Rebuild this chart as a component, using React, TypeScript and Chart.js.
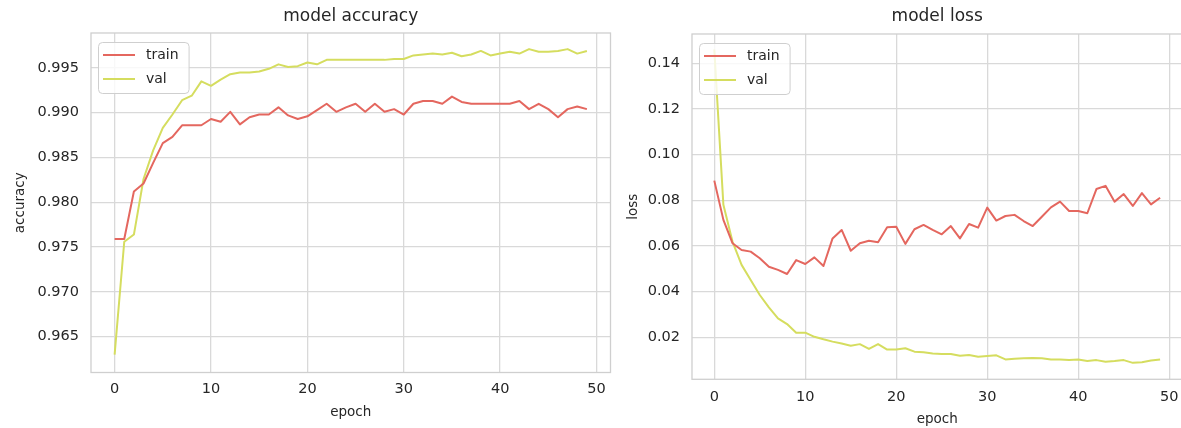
import React, { useEffect, useRef } from 'react';
import { Chart, registerables } from 'chart.js';

Chart.register(...registerables);

// ---------------- data ----------------
const seriesNames = ['train', 'val'];

const trainAcc = [
  0.9759, 0.9759, 0.9812, 0.9821, 0.9844, 0.9866, 0.9873, 0.9886, 0.9886, 0.9886,
  0.9893, 0.9890, 0.9901, 0.9887, 0.9895, 0.9898, 0.9898, 0.9906, 0.9897, 0.9893,
  0.9896, 0.9903, 0.9910, 0.9901, 0.9906, 0.9910, 0.9901, 0.9910, 0.9901, 0.9904,
  0.9898, 0.9910, 0.9913, 0.9913, 0.9910, 0.9918, 0.9912, 0.9910, 0.9910, 0.9910,
  0.9910, 0.9910, 0.9913, 0.9904, 0.9910, 0.9904, 0.9895, 0.9904, 0.9907, 0.9904,
];
const valAcc = [
  0.9630, 0.9756, 0.9764, 0.9826, 0.9858, 0.9883, 0.9898, 0.9914, 0.9919, 0.9935,
  0.9930, 0.9937, 0.9943, 0.9945, 0.9945, 0.9946, 0.9949, 0.9954, 0.9951, 0.9952,
  0.9956, 0.9954, 0.9959, 0.9959, 0.9959, 0.9959, 0.9959, 0.9959, 0.9959, 0.9960,
  0.9960, 0.9964, 0.9965, 0.9966, 0.9965, 0.9967, 0.9963, 0.9965, 0.9969, 0.9964,
  0.9966, 0.9968, 0.9966, 0.9971, 0.9968, 0.9968, 0.9969, 0.9971, 0.9966, 0.9969,
];
const trainLoss = [
  0.0886, 0.0714, 0.0612, 0.0582, 0.0575, 0.0546, 0.0509, 0.0495, 0.0477, 0.0538,
  0.0521, 0.0550, 0.0512, 0.0633, 0.0670, 0.0579, 0.0612, 0.0623, 0.0616, 0.0682,
  0.0684, 0.0609, 0.0673, 0.0692, 0.0670, 0.0651, 0.0687, 0.0633, 0.0696, 0.0680,
  0.0768, 0.0711, 0.0731, 0.0736, 0.0709, 0.0687, 0.0728, 0.0769, 0.0794, 0.0753,
  0.0753, 0.0743, 0.0849, 0.0863, 0.0794, 0.0827, 0.0775, 0.0831, 0.0782, 0.0811,
];
const valLoss = [
  0.1460, 0.0780, 0.0619, 0.0517, 0.0451, 0.0385, 0.0331, 0.0283, 0.0258, 0.0220,
  0.0220, 0.0202, 0.0191, 0.0181, 0.0173, 0.0163, 0.0170, 0.0149, 0.0170, 0.0146,
  0.0146, 0.0152, 0.0137, 0.0134, 0.0129, 0.0127, 0.0127, 0.0119, 0.0122, 0.0115,
  0.0118, 0.0121, 0.0103, 0.0106, 0.0108, 0.0109, 0.0108, 0.0103, 0.0103, 0.0100,
  0.0103, 0.0096, 0.0100, 0.0093, 0.0096, 0.0100, 0.0088, 0.0091, 0.0098, 0.0103,
];

const epochTicks = [0, 10, 20, 30, 40, 50];
const accTicks = [0.965, 0.97, 0.975, 0.98, 0.985, 0.99, 0.995];
const lossTicks = [0.02, 0.04, 0.06, 0.08, 0.1, 0.12, 0.14];

// ---------------- style ----------------
const FONT = '"DejaVu Sans", sans-serif';
const TEXT = '#262626';
const GRID = '#d9d9d9';
const FRAME = '#cfcfcf';
const COLORS = ['#e4675f', '#d5dd5f'];

const framePlugin = {
  id: 'frameBox',
  beforeDatasetsDraw(chart: any) {
    const { ctx, chartArea } = chart;
    ctx.save();
    ctx.strokeStyle = FRAME;
    ctx.lineWidth = 1.3;
    ctx.strokeRect(chartArea.left, chartArea.top, chartArea.right - chartArea.left, chartArea.bottom - chartArea.top);
    ctx.restore();
  },
};

const boxLegendPlugin = {
  id: 'boxLegend',
  afterDatasetsDraw(chart: any) {
    const { ctx, chartArea } = chart;
    const datasets = chart.data.datasets;
    ctx.save();
    ctx.font = `14px ${FONT}`;
    let maxW = 0;
    datasets.forEach((d: any) => { maxW = Math.max(maxW, ctx.measureText(d.label).width); });
    const x = chartArea.left + 7;
    const y = chartArea.top + 9;
    const w = 5 + 32 + 11 + maxW + 10;
    const h = 51;
    ctx.beginPath();
    if ((ctx as any).roundRect) (ctx as any).roundRect(x + 0.5, y + 0.5, w, h, 4);
    else ctx.rect(x + 0.5, y + 0.5, w, h);
    ctx.fillStyle = 'rgba(255,255,255,0.8)';
    ctx.fill();
    ctx.strokeStyle = FRAME;
    ctx.lineWidth = 1;
    ctx.stroke();
    datasets.forEach((d: any, i: number) => {
      const ly = y + 13 + i * 24;
      ctx.beginPath();
      ctx.moveTo(x + 5, ly);
      ctx.lineTo(x + 37, ly);
      ctx.strokeStyle = d.borderColor;
      ctx.lineWidth = 2;
      ctx.stroke();
      ctx.fillStyle = TEXT;
      ctx.textBaseline = 'middle';
      ctx.textAlign = 'left';
      ctx.fillText(d.label, x + 48, ly);
    });
    ctx.restore();
  },
};

type Cfg = {
  title: string;
  yLabel: string;
  train: number[];
  val: number[];
  yMin: number;
  yMax: number;
  yTicks: number[];
  decimals: number;
  yAxisWidth: number;
  xAxisHeight: number;
  padRight: number;
  titlePadBottom: number;
  xTickPad: number;
  xTitlePadBottom: number;
  yTitlePad: number;
};

function buildConfig(c: Cfg): any {
  const series = [c.train, c.val];
  return {
    type: 'line',
    data: {
      datasets: series.map((vals, k) => ({
        label: seriesNames[k],
        data: vals.map((v, i) => ({ x: i, y: v })),
        borderColor: COLORS[k],
        backgroundColor: COLORS[k],
        borderWidth: 2,
        pointRadius: 0,
        tension: 0,
        fill: false,
        borderJoinStyle: 'round',
      })),
    },
    options: {
      responsive: false,
      animation: false,
      devicePixelRatio: 1,
      layout: { padding: { left: 0, top: 0, right: c.padRight, bottom: 0 } },
      plugins: {
        legend: { display: false },
        tooltip: { enabled: false },
        title: {
          display: true,
          fullSize: false,
          text: c.title,
          color: TEXT,
          font: { family: FONT, size: 17, weight: 'normal' },
          padding: { top: 6.8, bottom: c.titlePadBottom },
        },
      },
      scales: {
        x: {
          type: 'linear',
          min: -2.45,
          max: 51.45,
          afterBuildTicks: (s: any) => { s.ticks = epochTicks.map((v) => ({ value: v })); },
          afterFit: (s: any) => { s.height = c.xAxisHeight; },
          ticks: {
            color: TEXT,
            font: { family: FONT, size: 14.5 },
            padding: c.xTickPad,
            maxRotation: 0,
            callback: (v: any) => String(v),
          },
          grid: { color: GRID, lineWidth: 1.3, drawTicks: false },
          border: { display: false },
          title: {
            display: true,
            text: 'epoch',
            color: TEXT,
            font: { family: FONT, size: 13.5 },
            padding: { top: 0, bottom: c.xTitlePadBottom },
          },
        },
        y: {
          type: 'linear',
          min: c.yMin,
          max: c.yMax,
          afterBuildTicks: (s: any) => { s.ticks = c.yTicks.map((v) => ({ value: v })); },
          afterFit: (s: any) => { s.width = c.yAxisWidth; },
          ticks: {
            color: TEXT,
            font: { family: FONT, size: 14.5 },
            padding: 12,
            callback: (v: any) => Number(v).toFixed(c.decimals),
          },
          grid: { color: GRID, lineWidth: 1.3, drawTicks: false },
          border: { display: false },
          title: {
            display: true,
            text: c.yLabel,
            color: TEXT,
            font: { family: FONT, size: 13.5 },
            padding: { top: c.yTitlePad, bottom: 0 },
          },
        },
      },
    },
    plugins: [framePlugin, boxLegendPlugin],
  };
}

function ChartCanvas({ left, width, cfg }: { left: number; width: number; cfg: Cfg }) {
  const ref = useRef<HTMLCanvasElement>(null);
  useEffect(() => {
    const chart = new Chart(ref.current as HTMLCanvasElement, buildConfig(cfg));
    return () => chart.destroy();
  }, []);
  return (
    <canvas
      ref={ref}
      width={width}
      height={428}
      style={{ position: 'absolute', left, top: 0, width, height: 428 }}
    />
  );
}

const accCfg: Cfg = {
  title: 'model accuracy',
  yLabel: 'accuracy',
  train: trainAcc,
  val: valAcc,
  yMin: 0.961,
  yMax: 0.9989,
  yTicks: accTicks,
  decimals: 3,
  yAxisWidth: 91,
  xAxisHeight: 55.5,
  padRight: 4.5,
  titlePadBottom: 5.8,
  xTickPad: 8,
  xTitlePadBottom: 7.9,
  yTitlePad: 12.5,
};

const lossCfg: Cfg = {
  title: 'model loss',
  yLabel: 'loss',
  train: trainLoss,
  val: valLoss,
  yMin: 0.0016,
  yMax: 0.1528,
  yTicks: lossTicks,
  decimals: 2,
  yAxisWidth: 77,
  xAxisHeight: 48.7,
  padRight: 17.6,
  titlePadBottom: 6.8,
  xTickPad: 9,
  xTitlePadBottom: 0,
  yTitlePad: 10,
};

export default function App() {
  return (
    <div
      style={{
        position: 'absolute',
        left: 0,
        top: 0,
        width: 1181,
        height: 428,
        overflow: 'hidden',
        background: '#ffffff',
      }}
    >
      <ChartCanvas left={0} width={615} cfg={accCfg} />
      <ChartCanvas left={615} width={585} cfg={lossCfg} />
    </div>
  );
}
